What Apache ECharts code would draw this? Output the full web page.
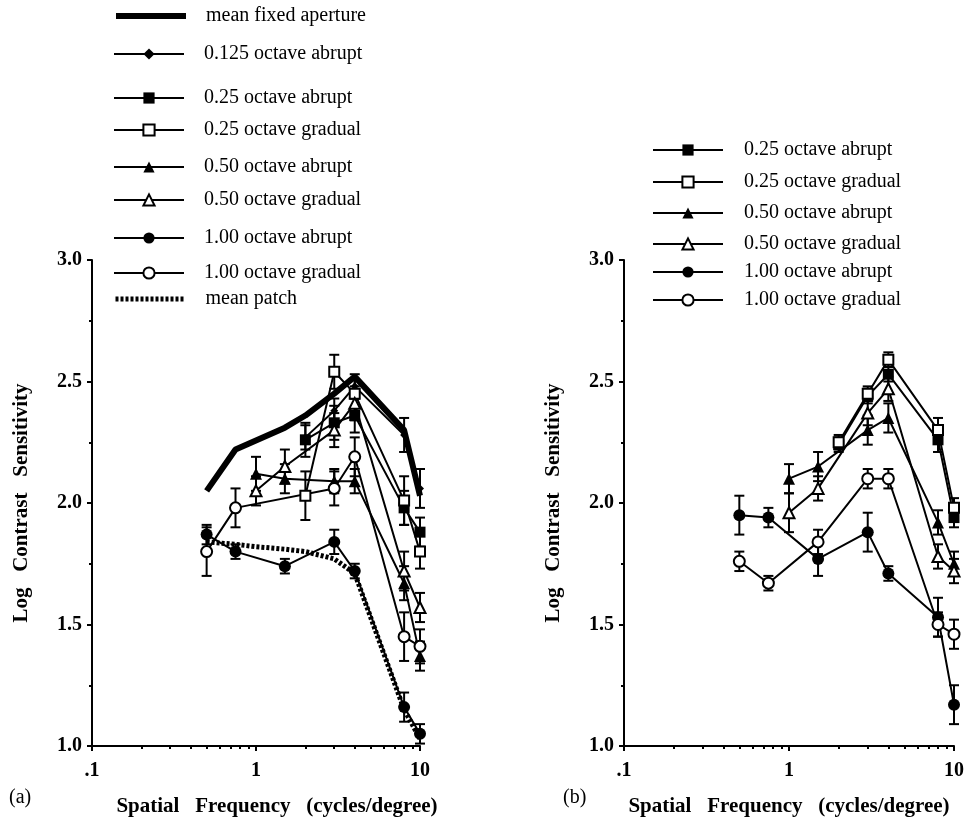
<!DOCTYPE html>
<html>
<head>
<meta charset="utf-8">
<title>Log contrast sensitivity vs spatial frequency</title>
<script src="https://cdn.jsdelivr.net/npm/echarts@6/dist/echarts.min.js"></script>
<style>
  html, body { margin: 0; padding: 0; background: #fff; }
  #chart { width: 971px; height: 822px; }
</style>
</head>
<body>
<div id="chart"></div>
<script>
// ---- panel (a) ----
const fixedFreqA = [0.5, 0.75, 1.5, 2, 3, 4, 8, 10];
const fixedA = [2.05, 2.22, 2.31, 2.36, 2.45, 2.52, 2.30, 2.03];

const oct125AbrFreqA = [2, 3, 4, 8, 10];
const oct125AbrA = [2.27, 2.38, 2.48, 2.28, 2.06];
const oct125AbrErrA = [0.05, 0.05, 0.05, 0.07, 0.08];

const oct25FreqA = [2, 3, 4, 8, 10];
const oct25AbrA = [2.26, 2.33, 2.36, 1.98, 1.88];
const oct25AbrErrA = [0.07, 0.07, 0.07, 0.07, 0.06];
const oct25GradA = [2.03, 2.54, 2.45, 2.01, 1.80];
const oct25GradErrA = [0.10, 0.07, 0.06, 0.10, 0.07];

const oct50FreqA = [1, 1.5, 3, 4, 8, 10];
const oct50AbrA = [2.12, 2.10, 2.09, 2.09, 1.67, 1.37];
const oct50AbrErrA = [0.07, 0.06, 0.05, 0.05, 0.07, 0.06];
const oct50GradA = [2.05, 2.15, 2.30, 2.41, 1.72, 1.57];
const oct50GradErrA = [0.06, 0.07, 0.07, 0.07, 0.08, 0.06];

const oct100AbrFreqA = [0.5, 0.75, 1.5, 3, 4, 8, 10];
const oct100AbrA = [1.87, 1.80, 1.74, 1.84, 1.72, 1.16, 1.05];
const oct100AbrErrA = [0.04, 0.03, 0.03, 0.05, 0.03, 0.06, 0.04];
const oct100GradFreqA = [0.5, 0.75, 3, 4, 8, 10];
const oct100GradA = [1.80, 1.98, 2.06, 2.19, 1.45, 1.41];
const oct100GradErrA = [0.10, 0.08, 0.07, 0.08, 0.10, 0.07];

const patchFreqA = [0.5, 0.75, 1, 1.5, 2, 3, 4, 8, 10];
const patchA = [1.84, 1.83, 1.82, 1.81, 1.80, 1.77, 1.71, 1.15, 1.03];

// ---- panel (b) ----
const oct25FreqB = [2, 3, 4, 8, 10];
const oct25AbrB = [2.24, 2.44, 2.53, 2.26, 1.94];
const oct25AbrErrB = [0.03, 0.03, 0.03, 0.05, 0.04];
const oct25GradB = [2.25, 2.45, 2.59, 2.30, 1.98];
const oct25GradErrB = [0.03, 0.03, 0.03, 0.05, 0.04];

const oct50FreqB = [1, 1.5, 3, 4, 8, 10];
const oct50AbrB = [2.10, 2.15, 2.30, 2.35, 1.92, 1.75];
const oct50AbrErrB = [0.06, 0.06, 0.06, 0.06, 0.05, 0.05];
const oct50GradB = [1.96, 2.06, 2.37, 2.47, 1.78, 1.72];
const oct50GradErrB = [0.08, 0.05, 0.05, 0.05, 0.05, 0.05];

const oct100FreqB = [0.5, 0.75, 1.5, 3, 4, 8, 10];
const oct100AbrB = [1.95, 1.94, 1.77, 1.88, 1.71, 1.53, 1.17];
const oct100AbrErrB = [0.08, 0.04, 0.07, 0.08, 0.03, 0.08, 0.08];
const oct100GradB = [1.76, 1.67, 1.84, 2.10, 2.10, 1.50, 1.46];
const oct100GradErrB = [0.04, 0.03, 0.05, 0.04, 0.04, 0.05, 0.06];

const xTickLabels = ['.1', '1', '10'];

const legendNamesA = ['mean fixed aperture', '0.125 octave abrupt', '0.25 octave abrupt',
  '0.25 octave gradual', '0.50 octave abrupt', '0.50 octave gradual',
  '1.00 octave abrupt', '1.00 octave gradual', 'mean patch'];
const legendNamesB = ['0.25 octave abrupt', '0.25 octave gradual', '0.50 octave abrupt',
  '0.50 octave gradual', '1.00 octave abrupt', '1.00 octave gradual'];

const SERIF = '"Liberation Serif", "DejaVu Serif", serif';

// marker / line look per condition
const styles = {
  'mean fixed aperture': { symbol: 'none', width: 6 },
  '0.125 octave abrupt': { symbol: 'diamond', size: 8 },
  '0.25 octave abrupt': { symbol: 'rect', size: 11 },
  '0.25 octave gradual': { symbol: 'emptyRect', size: 10 },
  '0.50 octave abrupt': { symbol: 'triangle', size: 12 },
  '0.50 octave gradual': { symbol: 'emptyTriangle', size: 11 },
  '1.00 octave abrupt': { symbol: 'circle', size: 12 },
  '1.00 octave gradual': { symbol: 'emptyCircle', size: 11 },
  'mean patch': { symbol: 'none', width: 5, type: [3, 2] }
};

function lineSeries(name, freqs, vals, gi) {
  const s = styles[name];
  const empty = s.symbol.indexOf('empty') === 0;
  return {
    name: name,
    type: 'line',
    xAxisIndex: gi,
    yAxisIndex: gi,
    data: freqs.map((f, i) => [f, vals[i]]),
    symbol: s.symbol,
    symbolSize: s.size || 0,
    showAllSymbol: true,
    lineStyle: { color: '#000', width: s.width || 2, type: s.type || 'solid' },
    itemStyle: { color: '#000', borderColor: '#000', borderWidth: empty ? 2 : 0 },
    emphasis: { disabled: true },
    z: 3
  };
}

function errSeries(freqs, vals, errs, gi) {
  return {
    type: 'custom',
    xAxisIndex: gi,
    yAxisIndex: gi,
    silent: true,
    z: 2,
    data: freqs.map((f, i) => [f, vals[i] - errs[i], vals[i] + errs[i]]),
    encode: { x: 0, y: [1, 2] },
    renderItem: function (params, api) {
      const lo = api.coord([api.value(0), api.value(1)]);
      const hi = api.coord([api.value(0), api.value(2)]);
      const w = 5;
      const st = { stroke: '#000', lineWidth: 2 };
      return {
        type: 'group',
        children: [
          { type: 'line', shape: { x1: lo[0], y1: lo[1], x2: hi[0], y2: hi[1] }, style: st },
          { type: 'line', shape: { x1: lo[0] - w, y1: lo[1], x2: lo[0] + w, y2: lo[1] }, style: st },
          { type: 'line', shape: { x1: hi[0] - w, y1: hi[1], x2: hi[0] + w, y2: hi[1] }, style: st }
        ]
      };
    }
  };
}

function xAxisOf(gi, namePad) {
  return {
    gridIndex: gi,
    type: 'log',
    logBase: 10,
    min: 0.1,
    max: 10,
    name: 'Spatial   Frequency   (cycles/degree)',
    nameLocation: 'middle',
    nameGap: 50,
    nameTextStyle: { color: '#000', fontFamily: SERIF, fontWeight: 'bold', fontSize: 21, padding: [0, 0, 0, namePad] },
    axisLine: { show: true, lineStyle: { color: '#000', width: 2 } },
    axisTick: { show: true, inside: false, length: 5, lineStyle: { color: '#000', width: 2 } },
    minorTick: { show: true, splitNumber: 9, length: 3, lineStyle: { color: '#000', width: 2 } },
    axisLabel: {
      color: '#000', fontFamily: SERIF, fontWeight: 'bold', fontSize: 20, margin: 15,
      formatter: v => (v < 0.5 ? xTickLabels[0] : v < 5 ? xTickLabels[1] : xTickLabels[2])
    },
    splitLine: { show: false }
  };
}

function yAxisOf(gi) {
  return {
    gridIndex: gi,
    type: 'value',
    min: 1,
    max: 3,
    interval: 0.5,
    name: 'Log   Contrast   Sensitivity',
    nameLocation: 'middle',
    nameRotate: 90,
    nameGap: 60,
    nameTextStyle: { color: '#000', fontFamily: SERIF, fontWeight: 'bold', fontSize: 21 },
    axisLine: { show: true, lineStyle: { color: '#000', width: 2 } },
    axisTick: { show: true, inside: false, length: 5, lineStyle: { color: '#000', width: 2 } },
    minorTick: { show: true, splitNumber: 2, length: 3, lineStyle: { color: '#000', width: 2 } },
    axisLabel: {
      color: '#000', fontFamily: SERIF, fontWeight: 'bold', fontSize: 20, margin: 10,
      formatter: v => v.toFixed(1)
    },
    splitLine: { show: false }
  };
}

function legendsOf(names, rows, left, textGap) {
  return names.map((n, i) => {
    const s = styles[n];
    const noMark = s.symbol === 'none';
    return {
      data: [n],
      left: left,
      top: rows[i] - 7,
      padding: 0,
      itemWidth: 70,
      itemHeight: 14,
      selectedMode: false,
      itemStyle: noMark ? { color: 'rgba(0,0,0,0)', borderWidth: 0, opacity: 0 } : {},
      lineStyle: { width: s.width || 2, type: s.type || 'solid', color: '#000' },
      textStyle: { color: '#000', fontFamily: SERIF, fontSize: 20, padding: [0, 0, 0, textGap] }
    };
  });
}

const legendRowsA = [13, 51, 95, 127, 164, 197, 235, 270, 296];
const legendRowsB = [147, 179, 210, 241, 269, 297];

const series = [
  lineSeries('mean fixed aperture', fixedFreqA, fixedA, 0),
  errSeries(oct125AbrFreqA, oct125AbrA, oct125AbrErrA, 0),
  lineSeries('0.125 octave abrupt', oct125AbrFreqA, oct125AbrA, 0),
  errSeries(oct25FreqA, oct25AbrA, oct25AbrErrA, 0),
  lineSeries('0.25 octave abrupt', oct25FreqA, oct25AbrA, 0),
  errSeries(oct25FreqA, oct25GradA, oct25GradErrA, 0),
  lineSeries('0.25 octave gradual', oct25FreqA, oct25GradA, 0),
  errSeries(oct50FreqA, oct50AbrA, oct50AbrErrA, 0),
  lineSeries('0.50 octave abrupt', oct50FreqA, oct50AbrA, 0),
  errSeries(oct50FreqA, oct50GradA, oct50GradErrA, 0),
  lineSeries('0.50 octave gradual', oct50FreqA, oct50GradA, 0),
  errSeries(oct100AbrFreqA, oct100AbrA, oct100AbrErrA, 0),
  lineSeries('1.00 octave abrupt', oct100AbrFreqA, oct100AbrA, 0),
  errSeries(oct100GradFreqA, oct100GradA, oct100GradErrA, 0),
  lineSeries('1.00 octave gradual', oct100GradFreqA, oct100GradA, 0),
  lineSeries('mean patch', patchFreqA, patchA, 0),

  errSeries(oct25FreqB, oct25AbrB, oct25AbrErrB, 1),
  lineSeries('0.25 octave abrupt', oct25FreqB, oct25AbrB, 1),
  errSeries(oct25FreqB, oct25GradB, oct25GradErrB, 1),
  lineSeries('0.25 octave gradual', oct25FreqB, oct25GradB, 1),
  errSeries(oct50FreqB, oct50AbrB, oct50AbrErrB, 1),
  lineSeries('0.50 octave abrupt', oct50FreqB, oct50AbrB, 1),
  errSeries(oct50FreqB, oct50GradB, oct50GradErrB, 1),
  lineSeries('0.50 octave gradual', oct50FreqB, oct50GradB, 1),
  errSeries(oct100FreqB, oct100AbrB, oct100AbrErrB, 1),
  lineSeries('1.00 octave abrupt', oct100FreqB, oct100AbrB, 1),
  errSeries(oct100FreqB, oct100GradB, oct100GradErrB, 1),
  lineSeries('1.00 octave gradual', oct100FreqB, oct100GradB, 1)
];

const chart = echarts.init(document.getElementById('chart'), null, { renderer: 'canvas' });

chart.setOption({
  animation: false,
  backgroundColor: '#fff',
  grid: [
    { left: 92, top: 260, width: 328, height: 488 },
    { left: 624, top: 260, width: 330, height: 488 }
  ],
  xAxis: [xAxisOf(0, 42), xAxisOf(1, 0)],
  yAxis: [yAxisOf(0), yAxisOf(1)],
  legend: legendsOf(legendNamesA, legendRowsA, 113, 15).concat(legendsOf(legendNamesB, legendRowsB, 652, 16)),
  graphic: [
    { type: 'text', left: 9, top: 788, style: { text: '(a)', fill: '#000', font: '20px ' + SERIF } },
    { type: 'text', left: 563, top: 788, style: { text: '(b)', fill: '#000', font: '20px ' + SERIF } }
  ],
  series: series
});
</script>
</body>
</html>
